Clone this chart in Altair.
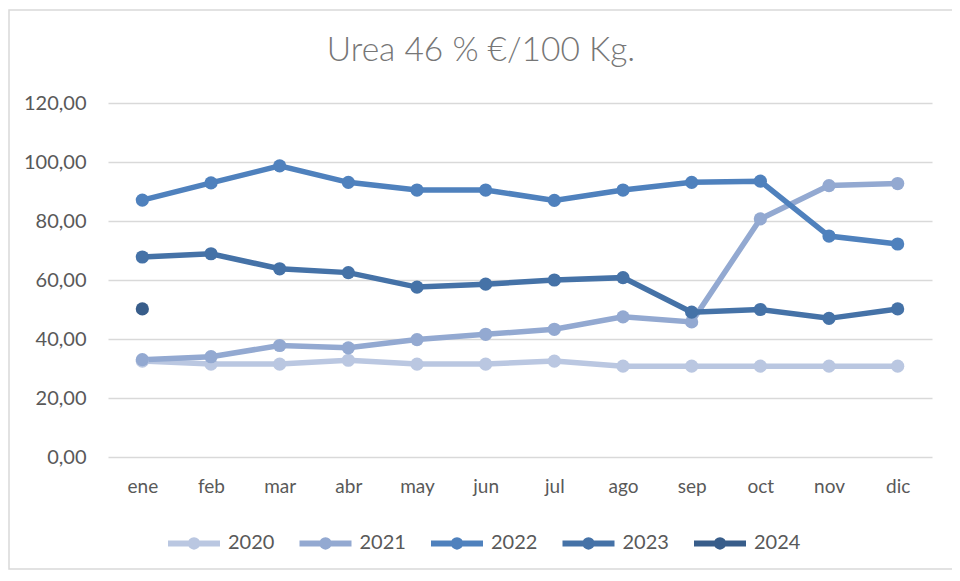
import altair as alt
import pandas as pd

months = ["ene", "feb", "mar", "abr", "may", "jun", "jul", "ago", "sep", "oct", "nov", "dic"]
years = ["2020", "2021", "2022", "2023", "2024"]

v2020 = [32.5, 31.5, 31.5, 32.8, 31.5, 31.5, 32.5, 30.8, 30.8, 30.8, 30.8, 30.8]
v2021 = [33.0, 34.0, 37.8, 37.0, 39.8, 41.6, 43.3, 47.5, 45.8, 80.7, 92.0, 92.7]
v2022 = [87.1, 92.9, 98.7, 93.1, 90.5, 90.5, 87.0, 90.5, 93.1, 93.5, 74.9, 72.2]
v2023 = [67.8, 68.9, 63.8, 62.5, 57.6, 58.6, 60.0, 60.8, 49.1, 50.0, 47.0, 50.2]
v2024 = [50.2]

title_text = "Urea 46 % €/100 Kg."

colors = ["#BAC7E1", "#93A9D1", "#4F81BD", "#4572A7", "#385D8A"]

rows = []
for yr, vals in zip(years, [v2020, v2021, v2022, v2023, v2024]):
    for m, v in zip(months, vals):
        rows.append({"mes": m, "año": yr, "valor": v})
df = pd.DataFrame(rows)

FONT = "Lato"

legend_path = ("M-1,0L1,0"
               "M0.125,0A0.125,0.125 0 1,1 -0.125,0A0.125,0.125 0 1,1 0.125,0Z")

lines = alt.Chart(df).mark_line(
    strokeWidth=5.5,
    point=alt.OverlayMarkDef(size=175, filled=True, opacity=1),
).encode(
    x=alt.X("mes:O", sort=months, scale=alt.Scale(domain=months, padding=0.5),
            axis=alt.Axis(title=None, labelAngle=0, domain=False, ticks=False,
                          labelPadding=20, labelFontSize=19, labelColor="#595959",
                          labelFont=FONT)),
    y=alt.Y("valor:Q", scale=alt.Scale(domain=[0, 120], nice=False),
            axis=alt.Axis(title=None, values=[0, 20, 40, 60, 80, 100, 120],
                          labelExpr="replace(format(datum.value, '.2f'), '.', ',')",
                          domain=False, ticks=False, labelPadding=22,
                          labelFontSize=20, labelColor="#595959", labelFont=FONT,
                          gridColor="#D9D9D9", gridWidth=1.5)),
    color=alt.Color("año:N", scale=alt.Scale(domain=years, range=colors),
                    legend=alt.Legend(title=None, orient="none", direction="horizontal",
                                      legendX=57, legendY=411,
                                      symbolType=legend_path, symbolSize=2704,
                                      symbolStrokeWidth=6, labelFontSize=20,
                                      labelFont=FONT, labelColor="#595959",
                                      labelOffset=5, columnPadding=12.5, padding=0)),
)

frame = alt.Chart(pd.DataFrame({"k": [0]})).mark_rect(
    fill=None, stroke="#D9D9D9", strokeWidth=1.5
).encode(
    x=alt.value(-99), x2=alt.value(846),
    y=alt.value(-93), y2=alt.value(466),
)

title = alt.Chart(pd.DataFrame({"t": [title_text]})).mark_text(
    font=FONT, fontSize=33.5, fontWeight=300, color="#767676",
    align="center", baseline="alphabetic"
).encode(
    text="t:N", x=alt.value(373), y=alt.value(-42),
)

chart = alt.layer(frame, title, lines).properties(
    width=824, height=354,
    padding={"left": 100, "top": 95, "right": 20, "bottom": 116},
    autosize=alt.AutoSizeParams(type="none"),
).configure_view(stroke=None)

chart.save("out.html", embed_options={"renderer": "svg", "actions": False})
